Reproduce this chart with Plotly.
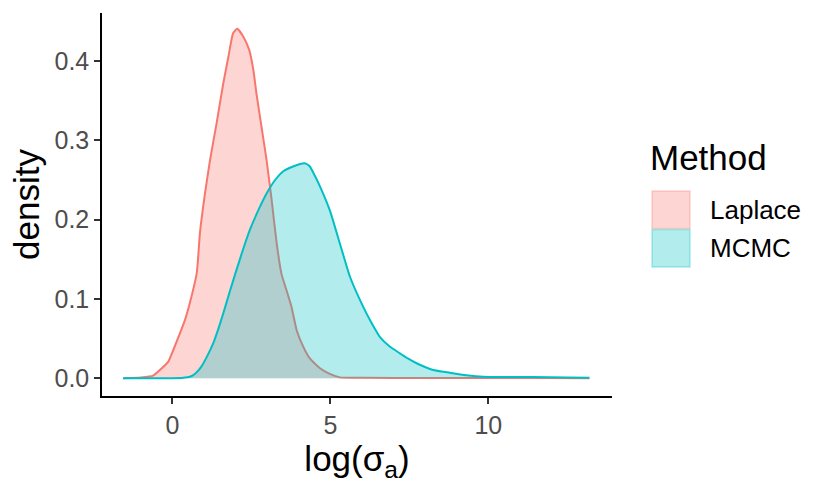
import plotly.graph_objects as go

# ---- data ----
methods = ["Laplace", "MCMC"]
colors = ["#F8766D", "#00BFC4"]

laplace_x = [-1.56, -1.0, -0.61, -0.34, -0.13, 0.03, 0.24, 0.40, 0.55, 0.77, 0.87, 1.03,
             1.19, 1.40, 1.61, 1.77, 1.92, 2.05, 2.24, 2.43, 2.56, 2.66, 2.82, 2.98, 3.14,
             3.30, 3.45, 3.61, 3.77, 3.93, 4.14, 4.35, 4.67, 4.98, 5.30, 6.0, 8.0, 10.0,
             11.5, 13.2]
laplace_y = [0.0, 0.001, 0.0033, 0.0126, 0.021, 0.036, 0.057, 0.074, 0.095, 0.133, 0.183,
             0.233, 0.275, 0.322, 0.372, 0.405, 0.435, 0.4405, 0.431, 0.414, 0.389, 0.359,
             0.317, 0.275, 0.225, 0.170, 0.132, 0.111, 0.090, 0.061, 0.040, 0.025, 0.0126,
             0.0055, 0.0012, 0.0006, 0.0005, 0.0004, 0.0003, 0.0002]

mcmc_x = [-1.56, 0.0, 0.34, 0.55, 0.66, 0.80, 0.92, 1.10, 1.29, 1.45, 1.61, 1.82, 2.03,
          2.24, 2.45, 2.72, 2.98, 3.25, 3.51, 3.82, 4.19, 4.35, 4.50, 4.67, 4.98, 5.30,
          5.62, 6.04, 6.30, 6.57, 6.88, 7.20, 7.45, 7.73, 8.25, 8.78, 9.30, 9.84, 11.4,
          12.5, 13.2]
mcmc_y = [0.0, 0.0002, 0.0008, 0.002, 0.004, 0.009, 0.015, 0.028, 0.044, 0.062, 0.082,
          0.110, 0.137, 0.163, 0.187, 0.212, 0.233, 0.250, 0.261, 0.267, 0.271, 0.267,
          0.256, 0.242, 0.212, 0.170, 0.128, 0.090, 0.070, 0.052, 0.040, 0.0315, 0.025,
          0.019, 0.0105, 0.0071, 0.004, 0.002, 0.0015, 0.001, 0.0008]

x_ticks = [0, 5, 10]
y_ticks = [0.0, 0.1, 0.2, 0.3, 0.4]
y_tick_labels = ["0.0", "0.1", "0.2", "0.3", "0.4"]

series = [(laplace_x, laplace_y), (mcmc_x, mcmc_y)]


def rgba(hexc, a):
    h = hexc.lstrip("#")
    r, g, b = int(h[0:2], 16), int(h[2:4], 16), int(h[4:6], 16)
    return f"rgba({r},{g},{b},{a})"


fig = go.Figure()
for name, col, (xs, ys) in zip(methods, colors, series):
    fig.add_trace(go.Scatter(
        x=xs, y=ys, name=name, mode="lines",
        line=dict(color=col, width=2, shape="spline", smoothing=0.5),
        fill="tozeroy", fillcolor=rgba(col, 0.3), showlegend=False,
    ))

# plot area geometry (pixels) for the hand-built legend
W, H = 830, 498
L, R, T, B = 102, 218, 13, 102
pw, ph = W - L - R, H - T - B


def px(x):
    return (x - L) / pw


def py(y):
    return (H - B - y) / ph


shapes = []
annotations = []
key_top = 190.5
key_h = 38.5
for i, (name, col) in enumerate(zip(methods, colors)):
    y0 = key_top + i * key_h
    shapes.append(dict(type="rect", xref="paper", yref="paper",
                       x0=px(652), x1=px(690), y0=py(y0 + key_h - 0.5), y1=py(y0 + 0.5),
                       fillcolor=rgba(col, 0.3), line=dict(color=rgba(col, 0.3), width=1.5)))
    annotations.append(dict(text=name, xref="paper", yref="paper", x=px(708), y=py(y0 + key_h / 2),
                            xanchor="left", yanchor="middle", showarrow=False,
                            font=dict(size=26, color="black")))
annotations.append(dict(text="Method", xref="paper", yref="paper", x=px(648), y=py(157),
                        xanchor="left", yanchor="middle", showarrow=False,
                        font=dict(size=35, color="black")))

fig.update_layout(
    width=W, height=H,
    margin=dict(l=L, r=R, t=T, b=B, pad=0, autoexpand=False),
    plot_bgcolor="white", paper_bgcolor="white",
    font=dict(family="Liberation Sans, Arial, sans-serif"),
    showlegend=False,
    shapes=shapes, annotations=annotations,
    xaxis=dict(
        range=[-2.23, 13.915], tickvals=x_ticks, ticktext=[str(v) for v in x_ticks],
        showgrid=False, zeroline=False, showline=True, linecolor="black", linewidth=1.5,
        ticks="outside", ticklen=6, tickwidth=1.5, tickcolor="#333333",
        tickfont=dict(size=25, color="#4D4D4D"), automargin=False,
        title=dict(text="log(σ<sub>a</sub>)", font=dict(size=35, color="black"), standoff=8),
    ),
    yaxis=dict(
        range=[-0.0223, 0.4605], tickvals=y_ticks, ticktext=y_tick_labels,
        showgrid=False, zeroline=False, showline=True, linecolor="black", linewidth=1.5,
        ticks="outside", ticklen=6, tickwidth=1.5, tickcolor="#333333",
        tickfont=dict(size=25, color="#4D4D4D"), automargin=False,
        title=dict(text="density", font=dict(size=35, color="black"), standoff=4),
    ),
)

fig.write_html("out.html", config={"displayModeBar": False},
               post_script="document.body.style.margin='0';document.body.style.overflow='hidden';")
